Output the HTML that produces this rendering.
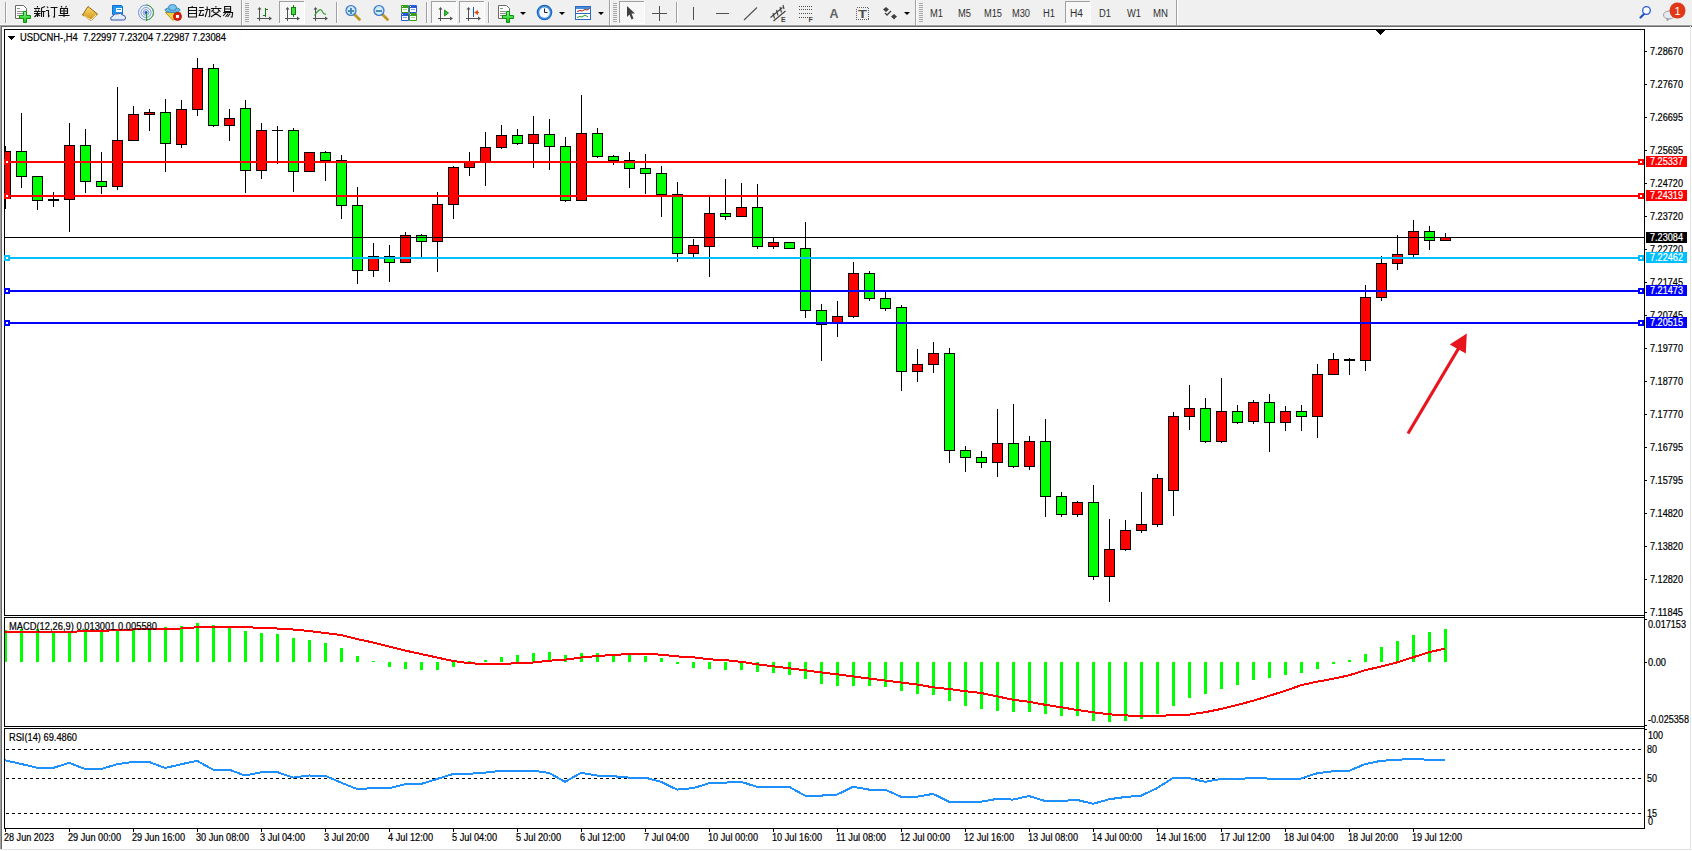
<!DOCTYPE html>
<html><head><meta charset="utf-8"><style>
html,body{margin:0;padding:0;background:#fff;overflow:hidden}
svg{display:block}
text{font-family:"Liberation Sans",sans-serif}
</style></head><body>
<svg width="1692" height="851" viewBox="0 0 1692 851" shape-rendering="crispEdges">
<rect x="0" y="0" width="1692" height="25" fill="#f0f0f0"/>
<rect x="0" y="23" width="1692" height="1" fill="#f0f0f0"/>
<rect x="0" y="24" width="1692" height="1" fill="#f6f6f6"/>
<rect x="0" y="25" width="1692" height="1" fill="#a0a0a0"/>
<rect x="0" y="26" width="1692" height="1" fill="#696969"/>
<rect x="0" y="27" width="1692" height="824" fill="#ffffff"/>
<rect x="0" y="26" width="1" height="824" fill="#a0a0a0"/>
<rect x="1" y="26" width="1" height="823" fill="#696969"/>
<rect x="1690" y="26" width="1" height="824" fill="#e3e3e3"/>
<rect x="0" y="849" width="1691" height="1" fill="#e3e3e3"/>
<rect x="4" y="29" width="1641" height="1" fill="#000"/>
<rect x="4" y="29" width="1" height="587" fill="#000"/>
<rect x="4" y="615" width="1641" height="1" fill="#000"/>
<rect x="1644" y="29" width="1" height="800" fill="#000"/>
<rect x="4" y="617" width="1641" height="1" fill="#000"/>
<rect x="4" y="617" width="1" height="110" fill="#000"/>
<rect x="4" y="726" width="1641" height="1" fill="#000"/>
<rect x="4" y="728" width="1641" height="1" fill="#000"/>
<rect x="4" y="728" width="1" height="101" fill="#000"/>
<rect x="4" y="828" width="1641" height="1" fill="#000"/>
<clipPath id="cm"><rect x="5" y="30" width="1639" height="585"/></clipPath>
<g clip-path="url(#cm)">
<rect x="5" y="146" width="1" height="63" fill="#000"/>
<rect x="0.5" y="151.5" width="10" height="47" fill="#ff0000" stroke="#000" stroke-width="1"/>
<rect x="21" y="113" width="1" height="75" fill="#000"/>
<rect x="16.5" y="151.5" width="10" height="25" fill="#00ff00" stroke="#000" stroke-width="1"/>
<rect x="37" y="176" width="1" height="34" fill="#000"/>
<rect x="32.5" y="176.5" width="10" height="24" fill="#00ff00" stroke="#000" stroke-width="1"/>
<rect x="53" y="192" width="1" height="15" fill="#000"/>
<rect x="48.5" y="199.5" width="10" height="1" fill="#000" stroke="#000" stroke-width="1"/>
<rect x="69" y="123" width="1" height="109" fill="#000"/>
<rect x="64.5" y="145.5" width="10" height="54" fill="#ff0000" stroke="#000" stroke-width="1"/>
<rect x="85" y="129" width="1" height="64" fill="#000"/>
<rect x="80.5" y="145.5" width="10" height="36" fill="#00ff00" stroke="#000" stroke-width="1"/>
<rect x="101" y="152" width="1" height="42" fill="#000"/>
<rect x="96.5" y="181.5" width="10" height="5" fill="#00ff00" stroke="#000" stroke-width="1"/>
<rect x="117" y="87" width="1" height="103" fill="#000"/>
<rect x="112.5" y="140.5" width="10" height="46" fill="#ff0000" stroke="#000" stroke-width="1"/>
<rect x="133" y="106" width="1" height="34" fill="#000"/>
<rect x="128.5" y="114.5" width="10" height="26" fill="#ff0000" stroke="#000" stroke-width="1"/>
<rect x="149" y="109" width="1" height="22" fill="#000"/>
<rect x="144.5" y="112.5" width="10" height="2" fill="#ff0000" stroke="#000" stroke-width="1"/>
<rect x="165" y="99" width="1" height="73" fill="#000"/>
<rect x="160.5" y="112.5" width="10" height="31" fill="#00ff00" stroke="#000" stroke-width="1"/>
<rect x="181" y="100" width="1" height="48" fill="#000"/>
<rect x="176.5" y="109.5" width="10" height="35" fill="#ff0000" stroke="#000" stroke-width="1"/>
<rect x="197" y="58" width="1" height="58" fill="#000"/>
<rect x="192.5" y="68.5" width="10" height="41" fill="#ff0000" stroke="#000" stroke-width="1"/>
<rect x="213" y="64" width="1" height="63" fill="#000"/>
<rect x="208.5" y="68.5" width="10" height="57" fill="#00ff00" stroke="#000" stroke-width="1"/>
<rect x="229" y="109" width="1" height="32" fill="#000"/>
<rect x="224.5" y="118.5" width="10" height="7" fill="#ff0000" stroke="#000" stroke-width="1"/>
<rect x="245" y="100" width="1" height="93" fill="#000"/>
<rect x="240.5" y="108.5" width="10" height="62" fill="#00ff00" stroke="#000" stroke-width="1"/>
<rect x="261" y="123" width="1" height="56" fill="#000"/>
<rect x="256.5" y="130.5" width="10" height="40" fill="#ff0000" stroke="#000" stroke-width="1"/>
<rect x="277" y="126" width="1" height="38" fill="#000"/>
<rect x="272" y="130" width="11" height="1" fill="#000"/>
<rect x="293" y="128" width="1" height="64" fill="#000"/>
<rect x="288.5" y="130.5" width="10" height="41" fill="#00ff00" stroke="#000" stroke-width="1"/>
<rect x="309" y="152" width="1" height="20" fill="#000"/>
<rect x="304.5" y="152.5" width="10" height="19" fill="#ff0000" stroke="#000" stroke-width="1"/>
<rect x="325" y="151" width="1" height="30" fill="#000"/>
<rect x="320.5" y="152.5" width="10" height="8" fill="#00ff00" stroke="#000" stroke-width="1"/>
<rect x="341" y="155" width="1" height="64" fill="#000"/>
<rect x="336.5" y="160.5" width="10" height="45" fill="#00ff00" stroke="#000" stroke-width="1"/>
<rect x="357" y="187" width="1" height="97" fill="#000"/>
<rect x="352.5" y="205.5" width="10" height="65" fill="#00ff00" stroke="#000" stroke-width="1"/>
<rect x="373" y="243" width="1" height="34" fill="#000"/>
<rect x="368.5" y="256.5" width="10" height="14" fill="#ff0000" stroke="#000" stroke-width="1"/>
<rect x="389" y="245" width="1" height="37" fill="#000"/>
<rect x="384.5" y="256.5" width="10" height="6" fill="#00ff00" stroke="#000" stroke-width="1"/>
<rect x="405" y="232" width="1" height="30" fill="#000"/>
<rect x="400.5" y="235.5" width="10" height="27" fill="#ff0000" stroke="#000" stroke-width="1"/>
<rect x="421" y="234" width="1" height="23" fill="#000"/>
<rect x="416.5" y="235.5" width="10" height="6" fill="#00ff00" stroke="#000" stroke-width="1"/>
<rect x="437" y="192" width="1" height="80" fill="#000"/>
<rect x="432.5" y="204.5" width="10" height="37" fill="#ff0000" stroke="#000" stroke-width="1"/>
<rect x="453" y="166" width="1" height="53" fill="#000"/>
<rect x="448.5" y="167.5" width="10" height="37" fill="#ff0000" stroke="#000" stroke-width="1"/>
<rect x="469" y="152" width="1" height="24" fill="#000"/>
<rect x="464.5" y="161.5" width="10" height="6" fill="#ff0000" stroke="#000" stroke-width="1"/>
<rect x="485" y="132" width="1" height="54" fill="#000"/>
<rect x="480.5" y="147.5" width="10" height="14" fill="#ff0000" stroke="#000" stroke-width="1"/>
<rect x="501" y="125" width="1" height="24" fill="#000"/>
<rect x="496.5" y="135.5" width="10" height="12" fill="#ff0000" stroke="#000" stroke-width="1"/>
<rect x="517" y="129" width="1" height="16" fill="#000"/>
<rect x="512.5" y="135.5" width="10" height="8" fill="#00ff00" stroke="#000" stroke-width="1"/>
<rect x="533" y="116" width="1" height="52" fill="#000"/>
<rect x="528.5" y="134.5" width="10" height="9" fill="#ff0000" stroke="#000" stroke-width="1"/>
<rect x="549" y="119" width="1" height="51" fill="#000"/>
<rect x="544.5" y="134.5" width="10" height="12" fill="#00ff00" stroke="#000" stroke-width="1"/>
<rect x="565" y="137" width="1" height="65" fill="#000"/>
<rect x="560.5" y="146.5" width="10" height="54" fill="#00ff00" stroke="#000" stroke-width="1"/>
<rect x="581" y="95" width="1" height="105" fill="#000"/>
<rect x="576.5" y="133.5" width="10" height="67" fill="#ff0000" stroke="#000" stroke-width="1"/>
<rect x="597" y="128" width="1" height="30" fill="#000"/>
<rect x="592.5" y="133.5" width="10" height="23" fill="#00ff00" stroke="#000" stroke-width="1"/>
<rect x="613" y="155" width="1" height="10" fill="#000"/>
<rect x="608.5" y="156.5" width="10" height="4" fill="#00ff00" stroke="#000" stroke-width="1"/>
<rect x="629" y="152" width="1" height="36" fill="#000"/>
<rect x="624.5" y="160.5" width="10" height="8" fill="#00ff00" stroke="#000" stroke-width="1"/>
<rect x="645" y="154" width="1" height="40" fill="#000"/>
<rect x="640.5" y="168.5" width="10" height="5" fill="#00ff00" stroke="#000" stroke-width="1"/>
<rect x="661" y="166" width="1" height="51" fill="#000"/>
<rect x="656.5" y="173.5" width="10" height="21" fill="#00ff00" stroke="#000" stroke-width="1"/>
<rect x="677" y="182" width="1" height="80" fill="#000"/>
<rect x="672.5" y="194.5" width="10" height="59" fill="#00ff00" stroke="#000" stroke-width="1"/>
<rect x="693" y="239" width="1" height="18" fill="#000"/>
<rect x="688.5" y="245.5" width="10" height="8" fill="#ff0000" stroke="#000" stroke-width="1"/>
<rect x="709" y="196" width="1" height="81" fill="#000"/>
<rect x="704.5" y="213.5" width="10" height="33" fill="#ff0000" stroke="#000" stroke-width="1"/>
<rect x="725" y="179" width="1" height="41" fill="#000"/>
<rect x="720.5" y="213.5" width="10" height="3" fill="#00ff00" stroke="#000" stroke-width="1"/>
<rect x="741" y="183" width="1" height="33" fill="#000"/>
<rect x="736.5" y="207.5" width="10" height="9" fill="#ff0000" stroke="#000" stroke-width="1"/>
<rect x="757" y="184" width="1" height="65" fill="#000"/>
<rect x="752.5" y="207.5" width="10" height="39" fill="#00ff00" stroke="#000" stroke-width="1"/>
<rect x="773" y="237" width="1" height="12" fill="#000"/>
<rect x="768.5" y="242.5" width="10" height="4" fill="#ff0000" stroke="#000" stroke-width="1"/>
<rect x="789" y="242" width="1" height="6" fill="#000"/>
<rect x="784.5" y="242.5" width="10" height="6" fill="#00ff00" stroke="#000" stroke-width="1"/>
<rect x="805" y="222" width="1" height="96" fill="#000"/>
<rect x="800.5" y="248.5" width="10" height="62" fill="#00ff00" stroke="#000" stroke-width="1"/>
<rect x="821" y="304" width="1" height="57" fill="#000"/>
<rect x="816.5" y="310.5" width="10" height="14" fill="#00ff00" stroke="#000" stroke-width="1"/>
<rect x="837" y="301" width="1" height="36" fill="#000"/>
<rect x="832.5" y="316.5" width="10" height="6" fill="#ff0000" stroke="#000" stroke-width="1"/>
<rect x="853" y="262" width="1" height="56" fill="#000"/>
<rect x="848.5" y="273.5" width="10" height="43" fill="#ff0000" stroke="#000" stroke-width="1"/>
<rect x="869" y="271" width="1" height="30" fill="#000"/>
<rect x="864.5" y="273.5" width="10" height="25" fill="#00ff00" stroke="#000" stroke-width="1"/>
<rect x="885" y="292" width="1" height="19" fill="#000"/>
<rect x="880.5" y="298.5" width="10" height="10" fill="#00ff00" stroke="#000" stroke-width="1"/>
<rect x="901" y="305" width="1" height="86" fill="#000"/>
<rect x="896.5" y="307.5" width="10" height="64" fill="#00ff00" stroke="#000" stroke-width="1"/>
<rect x="917" y="349" width="1" height="33" fill="#000"/>
<rect x="912.5" y="364.5" width="10" height="7" fill="#ff0000" stroke="#000" stroke-width="1"/>
<rect x="933" y="342" width="1" height="31" fill="#000"/>
<rect x="928.5" y="353.5" width="10" height="11" fill="#ff0000" stroke="#000" stroke-width="1"/>
<rect x="949" y="348" width="1" height="115" fill="#000"/>
<rect x="944.5" y="353.5" width="10" height="97" fill="#00ff00" stroke="#000" stroke-width="1"/>
<rect x="965" y="446" width="1" height="26" fill="#000"/>
<rect x="960.5" y="450.5" width="10" height="7" fill="#00ff00" stroke="#000" stroke-width="1"/>
<rect x="981" y="451" width="1" height="17" fill="#000"/>
<rect x="976.5" y="457.5" width="10" height="5" fill="#00ff00" stroke="#000" stroke-width="1"/>
<rect x="997" y="409" width="1" height="68" fill="#000"/>
<rect x="992.5" y="443.5" width="10" height="19" fill="#ff0000" stroke="#000" stroke-width="1"/>
<rect x="1013" y="404" width="1" height="64" fill="#000"/>
<rect x="1008.5" y="443.5" width="10" height="23" fill="#00ff00" stroke="#000" stroke-width="1"/>
<rect x="1029" y="436" width="1" height="34" fill="#000"/>
<rect x="1024.5" y="441.5" width="10" height="25" fill="#ff0000" stroke="#000" stroke-width="1"/>
<rect x="1045" y="419" width="1" height="98" fill="#000"/>
<rect x="1040.5" y="441.5" width="10" height="55" fill="#00ff00" stroke="#000" stroke-width="1"/>
<rect x="1061" y="492" width="1" height="25" fill="#000"/>
<rect x="1056.5" y="496.5" width="10" height="18" fill="#00ff00" stroke="#000" stroke-width="1"/>
<rect x="1077" y="501" width="1" height="16" fill="#000"/>
<rect x="1072.5" y="502.5" width="10" height="12" fill="#ff0000" stroke="#000" stroke-width="1"/>
<rect x="1093" y="485" width="1" height="95" fill="#000"/>
<rect x="1088.5" y="502.5" width="10" height="74" fill="#00ff00" stroke="#000" stroke-width="1"/>
<rect x="1109" y="519" width="1" height="83" fill="#000"/>
<rect x="1104.5" y="549.5" width="10" height="27" fill="#ff0000" stroke="#000" stroke-width="1"/>
<rect x="1125" y="520" width="1" height="31" fill="#000"/>
<rect x="1120.5" y="530.5" width="10" height="19" fill="#ff0000" stroke="#000" stroke-width="1"/>
<rect x="1141" y="492" width="1" height="41" fill="#000"/>
<rect x="1136.5" y="524.5" width="10" height="6" fill="#ff0000" stroke="#000" stroke-width="1"/>
<rect x="1157" y="474" width="1" height="53" fill="#000"/>
<rect x="1152.5" y="478.5" width="10" height="46" fill="#ff0000" stroke="#000" stroke-width="1"/>
<rect x="1173" y="412" width="1" height="104" fill="#000"/>
<rect x="1168.5" y="416.5" width="10" height="74" fill="#ff0000" stroke="#000" stroke-width="1"/>
<rect x="1189" y="385" width="1" height="45" fill="#000"/>
<rect x="1184.5" y="408.5" width="10" height="8" fill="#ff0000" stroke="#000" stroke-width="1"/>
<rect x="1205" y="398" width="1" height="45" fill="#000"/>
<rect x="1200.5" y="408.5" width="10" height="33" fill="#00ff00" stroke="#000" stroke-width="1"/>
<rect x="1221" y="378" width="1" height="65" fill="#000"/>
<rect x="1216.5" y="411.5" width="10" height="30" fill="#ff0000" stroke="#000" stroke-width="1"/>
<rect x="1237" y="405" width="1" height="19" fill="#000"/>
<rect x="1232.5" y="411.5" width="10" height="11" fill="#00ff00" stroke="#000" stroke-width="1"/>
<rect x="1253" y="400" width="1" height="24" fill="#000"/>
<rect x="1248.5" y="402.5" width="10" height="19" fill="#ff0000" stroke="#000" stroke-width="1"/>
<rect x="1269" y="394" width="1" height="58" fill="#000"/>
<rect x="1264.5" y="402.5" width="10" height="20" fill="#00ff00" stroke="#000" stroke-width="1"/>
<rect x="1285" y="406" width="1" height="25" fill="#000"/>
<rect x="1280.5" y="411.5" width="10" height="11" fill="#ff0000" stroke="#000" stroke-width="1"/>
<rect x="1301" y="405" width="1" height="26" fill="#000"/>
<rect x="1296.5" y="411.5" width="10" height="5" fill="#00ff00" stroke="#000" stroke-width="1"/>
<rect x="1317" y="364" width="1" height="74" fill="#000"/>
<rect x="1312.5" y="374.5" width="10" height="42" fill="#ff0000" stroke="#000" stroke-width="1"/>
<rect x="1333" y="353" width="1" height="22" fill="#000"/>
<rect x="1328.5" y="359.5" width="10" height="15" fill="#ff0000" stroke="#000" stroke-width="1"/>
<rect x="1349" y="358" width="1" height="17" fill="#000"/>
<rect x="1344.5" y="359.5" width="10" height="1" fill="#000" stroke="#000" stroke-width="1"/>
<rect x="1365" y="285" width="1" height="86" fill="#000"/>
<rect x="1360.5" y="297.5" width="10" height="63" fill="#ff0000" stroke="#000" stroke-width="1"/>
<rect x="1381" y="256" width="1" height="45" fill="#000"/>
<rect x="1376.5" y="263.5" width="10" height="34" fill="#ff0000" stroke="#000" stroke-width="1"/>
<rect x="1397" y="235" width="1" height="35" fill="#000"/>
<rect x="1392.5" y="254.5" width="10" height="9" fill="#ff0000" stroke="#000" stroke-width="1"/>
<rect x="1413" y="220" width="1" height="37" fill="#000"/>
<rect x="1408.5" y="231.5" width="10" height="23" fill="#ff0000" stroke="#000" stroke-width="1"/>
<rect x="1429" y="226" width="1" height="24" fill="#000"/>
<rect x="1424.5" y="231.5" width="10" height="9" fill="#00ff00" stroke="#000" stroke-width="1"/>
<rect x="1445" y="233" width="1" height="8" fill="#000"/>
<rect x="1440.5" y="237.5" width="10" height="3" fill="#ff0000" stroke="#000" stroke-width="1"/>
<rect x="5" y="161" width="1639" height="2" fill="#ff0000"/>
<rect x="5" y="195" width="1639" height="2" fill="#ff0000"/>
<rect x="5" y="237" width="1639" height="1" fill="#000000"/>
<rect x="5" y="257" width="1639" height="2" fill="#00bfff"/>
<rect x="5" y="290" width="1639" height="2" fill="#0000ff"/>
<rect x="5" y="322" width="1639" height="2" fill="#0000ff"/>
<g shape-rendering="geometricPrecision"><line x1="1408" y1="433.5" x2="1458.5" y2="348.5" stroke="#e8141e" stroke-width="3.2"/>
<polygon points="1466.8,333.5 1449.8,344.6 1465.8,353.5" fill="#e8141e"/></g>
</g>
<rect x="4" y="159" width="6" height="6" fill="#ff0000"/>
<rect x="6" y="161" width="2" height="2" fill="#ffffff"/>
<rect x="1638" y="159" width="6" height="6" fill="#ff0000"/>
<rect x="1640" y="161" width="2" height="2" fill="#ffffff"/>
<rect x="4" y="193" width="6" height="6" fill="#ff0000"/>
<rect x="6" y="195" width="2" height="2" fill="#ffffff"/>
<rect x="1638" y="193" width="6" height="6" fill="#ff0000"/>
<rect x="1640" y="195" width="2" height="2" fill="#ffffff"/>
<rect x="4" y="255" width="6" height="6" fill="#00bfff"/>
<rect x="6" y="257" width="2" height="2" fill="#ffffff"/>
<rect x="1638" y="255" width="6" height="6" fill="#00bfff"/>
<rect x="1640" y="257" width="2" height="2" fill="#ffffff"/>
<rect x="4" y="288" width="6" height="6" fill="#0000ff"/>
<rect x="6" y="290" width="2" height="2" fill="#ffffff"/>
<rect x="1638" y="288" width="6" height="6" fill="#0000ff"/>
<rect x="1640" y="290" width="2" height="2" fill="#ffffff"/>
<rect x="4" y="320" width="6" height="6" fill="#0000ff"/>
<rect x="6" y="322" width="2" height="2" fill="#ffffff"/>
<rect x="1638" y="320" width="6" height="6" fill="#0000ff"/>
<rect x="1640" y="322" width="2" height="2" fill="#ffffff"/>
<polygon points="1374.5,29 1386.5,29 1380.5,35" fill="#000"/>
<polygon points="8,36 15,36 11.5,40" fill="#000"/>
<text x="20" y="41" font-size="10" fill="#000" stroke="#000" stroke-width="0.2" textLength="206" lengthAdjust="spacingAndGlyphs" >USDCNH-,H4&#160;&#160;7.22997 7.23204 7.22987 7.23084</text>
<rect x="1645" y="51" width="2" height="1" fill="#000"/>
<text x="1650" y="55" font-size="10" fill="#000" stroke="#000" stroke-width="0.2" textLength="33" lengthAdjust="spacingAndGlyphs" >7.28670</text>
<rect x="1645" y="84" width="2" height="1" fill="#000"/>
<text x="1650" y="88" font-size="10" fill="#000" stroke="#000" stroke-width="0.2" textLength="33" lengthAdjust="spacingAndGlyphs" >7.27670</text>
<rect x="1645" y="117" width="2" height="1" fill="#000"/>
<text x="1650" y="121" font-size="10" fill="#000" stroke="#000" stroke-width="0.2" textLength="33" lengthAdjust="spacingAndGlyphs" >7.26695</text>
<rect x="1645" y="150" width="2" height="1" fill="#000"/>
<text x="1650" y="154" font-size="10" fill="#000" stroke="#000" stroke-width="0.2" textLength="33" lengthAdjust="spacingAndGlyphs" >7.25695</text>
<rect x="1645" y="183" width="2" height="1" fill="#000"/>
<text x="1650" y="187" font-size="10" fill="#000" stroke="#000" stroke-width="0.2" textLength="33" lengthAdjust="spacingAndGlyphs" >7.24720</text>
<rect x="1645" y="216" width="2" height="1" fill="#000"/>
<text x="1650" y="220" font-size="10" fill="#000" stroke="#000" stroke-width="0.2" textLength="33" lengthAdjust="spacingAndGlyphs" >7.23720</text>
<rect x="1645" y="249" width="2" height="1" fill="#000"/>
<text x="1650" y="253" font-size="10" fill="#000" stroke="#000" stroke-width="0.2" textLength="33" lengthAdjust="spacingAndGlyphs" >7.22720</text>
<rect x="1645" y="282" width="2" height="1" fill="#000"/>
<text x="1650" y="286" font-size="10" fill="#000" stroke="#000" stroke-width="0.2" textLength="33" lengthAdjust="spacingAndGlyphs" >7.21745</text>
<rect x="1645" y="315" width="2" height="1" fill="#000"/>
<text x="1650" y="319" font-size="10" fill="#000" stroke="#000" stroke-width="0.2" textLength="33" lengthAdjust="spacingAndGlyphs" >7.20745</text>
<rect x="1645" y="348" width="2" height="1" fill="#000"/>
<text x="1650" y="352" font-size="10" fill="#000" stroke="#000" stroke-width="0.2" textLength="33" lengthAdjust="spacingAndGlyphs" >7.19770</text>
<rect x="1645" y="381" width="2" height="1" fill="#000"/>
<text x="1650" y="385" font-size="10" fill="#000" stroke="#000" stroke-width="0.2" textLength="33" lengthAdjust="spacingAndGlyphs" >7.18770</text>
<rect x="1645" y="414" width="2" height="1" fill="#000"/>
<text x="1650" y="418" font-size="10" fill="#000" stroke="#000" stroke-width="0.2" textLength="33" lengthAdjust="spacingAndGlyphs" >7.17770</text>
<rect x="1645" y="447" width="2" height="1" fill="#000"/>
<text x="1650" y="451" font-size="10" fill="#000" stroke="#000" stroke-width="0.2" textLength="33" lengthAdjust="spacingAndGlyphs" >7.16795</text>
<rect x="1645" y="480" width="2" height="1" fill="#000"/>
<text x="1650" y="484" font-size="10" fill="#000" stroke="#000" stroke-width="0.2" textLength="33" lengthAdjust="spacingAndGlyphs" >7.15795</text>
<rect x="1645" y="513" width="2" height="1" fill="#000"/>
<text x="1650" y="517" font-size="10" fill="#000" stroke="#000" stroke-width="0.2" textLength="33" lengthAdjust="spacingAndGlyphs" >7.14820</text>
<rect x="1645" y="546" width="2" height="1" fill="#000"/>
<text x="1650" y="550" font-size="10" fill="#000" stroke="#000" stroke-width="0.2" textLength="33" lengthAdjust="spacingAndGlyphs" >7.13820</text>
<rect x="1645" y="579" width="2" height="1" fill="#000"/>
<text x="1650" y="583" font-size="10" fill="#000" stroke="#000" stroke-width="0.2" textLength="33" lengthAdjust="spacingAndGlyphs" >7.12820</text>
<rect x="1645" y="612" width="2" height="1" fill="#000"/>
<text x="1650" y="616" font-size="10" fill="#000" stroke="#000" stroke-width="0.2" textLength="33" lengthAdjust="spacingAndGlyphs" >7.11845</text>
<rect x="1646" y="156" width="41" height="11" fill="#ff0000"/>
<text x="1650" y="165" font-size="10" fill="#fff" stroke="#fff" stroke-width="0.2" textLength="33" lengthAdjust="spacingAndGlyphs" >7.25337</text>
<rect x="1646" y="190" width="41" height="11" fill="#ff0000"/>
<text x="1650" y="199" font-size="10" fill="#fff" stroke="#fff" stroke-width="0.2" textLength="33" lengthAdjust="spacingAndGlyphs" >7.24319</text>
<rect x="1646" y="232" width="41" height="11" fill="#000000"/>
<text x="1650" y="241" font-size="10" fill="#fff" stroke="#fff" stroke-width="0.2" textLength="33" lengthAdjust="spacingAndGlyphs" >7.23084</text>
<rect x="1646" y="252" width="41" height="11" fill="#00bfff"/>
<text x="1650" y="261" font-size="10" fill="#fff" stroke="#fff" stroke-width="0.2" textLength="33" lengthAdjust="spacingAndGlyphs" >7.22462</text>
<rect x="1646" y="285" width="41" height="11" fill="#0000ff"/>
<text x="1650" y="294" font-size="10" fill="#fff" stroke="#fff" stroke-width="0.2" textLength="33" lengthAdjust="spacingAndGlyphs" >7.21473</text>
<rect x="1646" y="317" width="41" height="11" fill="#0000ff"/>
<text x="1650" y="326" font-size="10" fill="#fff" stroke="#fff" stroke-width="0.2" textLength="33" lengthAdjust="spacingAndGlyphs" >7.20515</text>
<clipPath id="cmacd"><rect x="5" y="618" width="1639" height="108"/></clipPath>
<g clip-path="url(#cmacd)">
<rect x="4" y="630" width="3" height="32" fill="#00ff00"/>
<rect x="20" y="629" width="3" height="33" fill="#00ff00"/>
<rect x="36" y="629" width="3" height="33" fill="#00ff00"/>
<rect x="52" y="631" width="3" height="31" fill="#00ff00"/>
<rect x="68" y="631" width="3" height="31" fill="#00ff00"/>
<rect x="84" y="629" width="3" height="33" fill="#00ff00"/>
<rect x="100" y="631" width="3" height="31" fill="#00ff00"/>
<rect x="116" y="629" width="3" height="33" fill="#00ff00"/>
<rect x="132" y="628" width="3" height="34" fill="#00ff00"/>
<rect x="148" y="628" width="3" height="34" fill="#00ff00"/>
<rect x="164" y="627" width="3" height="35" fill="#00ff00"/>
<rect x="180" y="626" width="3" height="36" fill="#00ff00"/>
<rect x="196" y="623" width="3" height="39" fill="#00ff00"/>
<rect x="212" y="625" width="3" height="37" fill="#00ff00"/>
<rect x="228" y="628" width="3" height="34" fill="#00ff00"/>
<rect x="244" y="631" width="3" height="31" fill="#00ff00"/>
<rect x="260" y="633" width="3" height="29" fill="#00ff00"/>
<rect x="276" y="634" width="3" height="28" fill="#00ff00"/>
<rect x="292" y="638" width="3" height="24" fill="#00ff00"/>
<rect x="308" y="640" width="3" height="22" fill="#00ff00"/>
<rect x="324" y="643" width="3" height="19" fill="#00ff00"/>
<rect x="340" y="648" width="3" height="14" fill="#00ff00"/>
<rect x="356" y="656" width="3" height="6" fill="#00ff00"/>
<rect x="372" y="661" width="3" height="1" fill="#00ff00"/>
<rect x="388" y="662" width="3" height="5" fill="#00ff00"/>
<rect x="404" y="662" width="3" height="7" fill="#00ff00"/>
<rect x="420" y="662" width="3" height="8" fill="#00ff00"/>
<rect x="436" y="662" width="3" height="8" fill="#00ff00"/>
<rect x="452" y="662" width="3" height="5" fill="#00ff00"/>
<rect x="468" y="661" width="3" height="1" fill="#00ff00"/>
<rect x="484" y="660" width="3" height="2" fill="#00ff00"/>
<rect x="500" y="657" width="3" height="5" fill="#00ff00"/>
<rect x="516" y="655" width="3" height="7" fill="#00ff00"/>
<rect x="532" y="653" width="3" height="9" fill="#00ff00"/>
<rect x="548" y="652" width="3" height="10" fill="#00ff00"/>
<rect x="564" y="655" width="3" height="7" fill="#00ff00"/>
<rect x="580" y="653" width="3" height="9" fill="#00ff00"/>
<rect x="596" y="653" width="3" height="9" fill="#00ff00"/>
<rect x="612" y="654" width="3" height="8" fill="#00ff00"/>
<rect x="628" y="655" width="3" height="7" fill="#00ff00"/>
<rect x="644" y="656" width="3" height="6" fill="#00ff00"/>
<rect x="660" y="658" width="3" height="4" fill="#00ff00"/>
<rect x="676" y="662" width="3" height="2" fill="#00ff00"/>
<rect x="692" y="662" width="3" height="6" fill="#00ff00"/>
<rect x="708" y="662" width="3" height="7" fill="#00ff00"/>
<rect x="724" y="662" width="3" height="8" fill="#00ff00"/>
<rect x="740" y="662" width="3" height="8" fill="#00ff00"/>
<rect x="756" y="662" width="3" height="10" fill="#00ff00"/>
<rect x="772" y="662" width="3" height="11" fill="#00ff00"/>
<rect x="788" y="662" width="3" height="13" fill="#00ff00"/>
<rect x="804" y="662" width="3" height="17" fill="#00ff00"/>
<rect x="820" y="662" width="3" height="22" fill="#00ff00"/>
<rect x="836" y="662" width="3" height="24" fill="#00ff00"/>
<rect x="852" y="662" width="3" height="24" fill="#00ff00"/>
<rect x="868" y="662" width="3" height="24" fill="#00ff00"/>
<rect x="884" y="662" width="3" height="25" fill="#00ff00"/>
<rect x="900" y="662" width="3" height="29" fill="#00ff00"/>
<rect x="916" y="662" width="3" height="32" fill="#00ff00"/>
<rect x="932" y="662" width="3" height="33" fill="#00ff00"/>
<rect x="948" y="662" width="3" height="39" fill="#00ff00"/>
<rect x="964" y="662" width="3" height="44" fill="#00ff00"/>
<rect x="980" y="662" width="3" height="47" fill="#00ff00"/>
<rect x="996" y="662" width="3" height="49" fill="#00ff00"/>
<rect x="1012" y="662" width="3" height="50" fill="#00ff00"/>
<rect x="1028" y="662" width="3" height="50" fill="#00ff00"/>
<rect x="1044" y="662" width="3" height="52" fill="#00ff00"/>
<rect x="1060" y="662" width="3" height="54" fill="#00ff00"/>
<rect x="1076" y="662" width="3" height="54" fill="#00ff00"/>
<rect x="1092" y="662" width="3" height="59" fill="#00ff00"/>
<rect x="1108" y="662" width="3" height="60" fill="#00ff00"/>
<rect x="1124" y="662" width="3" height="59" fill="#00ff00"/>
<rect x="1140" y="662" width="3" height="57" fill="#00ff00"/>
<rect x="1156" y="662" width="3" height="52" fill="#00ff00"/>
<rect x="1172" y="662" width="3" height="44" fill="#00ff00"/>
<rect x="1188" y="662" width="3" height="36" fill="#00ff00"/>
<rect x="1204" y="662" width="3" height="32" fill="#00ff00"/>
<rect x="1220" y="662" width="3" height="27" fill="#00ff00"/>
<rect x="1236" y="662" width="3" height="23" fill="#00ff00"/>
<rect x="1252" y="662" width="3" height="18" fill="#00ff00"/>
<rect x="1268" y="662" width="3" height="16" fill="#00ff00"/>
<rect x="1284" y="662" width="3" height="13" fill="#00ff00"/>
<rect x="1300" y="662" width="3" height="11" fill="#00ff00"/>
<rect x="1316" y="662" width="3" height="7" fill="#00ff00"/>
<rect x="1332" y="662" width="3" height="2" fill="#00ff00"/>
<rect x="1348" y="660" width="3" height="2" fill="#00ff00"/>
<rect x="1364" y="654" width="3" height="8" fill="#00ff00"/>
<rect x="1380" y="647" width="3" height="15" fill="#00ff00"/>
<rect x="1396" y="641" width="3" height="21" fill="#00ff00"/>
<rect x="1412" y="635" width="3" height="27" fill="#00ff00"/>
<rect x="1428" y="632" width="3" height="30" fill="#00ff00"/>
<rect x="1444" y="629" width="3" height="33" fill="#00ff00"/>
<polyline points="5,632 21,632 37,632 53,632 69,632 85,631 101,631 117,630 133,629.5 149,629 165,628.8 181,628.5 197,627.3 213,627 229,627 245,627 261,628 277,628.5 293,629.5 309,631 325,633 341,635 357,639 373,642.5 389,646.5 405,650.5 421,654 437,657.5 453,661 469,663.2 485,664 501,664 517,663.2 533,662.5 549,660.7 565,659.7 581,657.5 597,656 613,655 629,654 645,653.6 661,654.7 677,656.4 693,657.3 709,659.3 725,660.1 741,661.8 757,664.2 773,666.3 789,668.2 805,670.3 821,672.4 837,674.3 853,676.4 869,678.5 885,680.5 901,682.5 917,684.5 933,687.3 949,689 965,691.2 981,693 997,696.3 1013,699.8 1029,701.8 1045,704.8 1061,707.2 1077,710 1093,712.2 1109,714.3 1125,715.4 1141,716 1157,716 1173,715.1 1189,714.6 1205,712.2 1221,709 1237,705 1253,700.8 1269,695.9 1285,690.9 1301,685.2 1317,681.7 1333,678.8 1349,675.3 1365,670.3 1381,666.5 1397,662.4 1413,657.3 1429,652.3 1445,648.5" fill="none" stroke="#ff0000" stroke-width="2"/>
</g>
<text x="9" y="630" font-size="10" fill="#000" stroke="#000" stroke-width="0.2" textLength="148" lengthAdjust="spacingAndGlyphs" >MACD(12,26,9) 0.013001 0.005580</text>
<rect x="1645" y="619" width="2" height="1" fill="#000"/>
<rect x="1645" y="662" width="2" height="1" fill="#000"/>
<rect x="1645" y="725" width="2" height="1" fill="#000"/>
<text x="1648" y="628" font-size="10" fill="#000" stroke="#000" stroke-width="0.2" textLength="38" lengthAdjust="spacingAndGlyphs" >0.017153</text>
<text x="1648" y="666" font-size="10" fill="#000" stroke="#000" stroke-width="0.2" textLength="18" lengthAdjust="spacingAndGlyphs" >0.00</text>
<text x="1648" y="723" font-size="10" fill="#000" stroke="#000" stroke-width="0.2" textLength="41" lengthAdjust="spacingAndGlyphs" >-0.025358</text>
<clipPath id="crsi"><rect x="5" y="729" width="1639" height="99"/></clipPath>
<g clip-path="url(#crsi)">
<line x1="6" y1="749.5" x2="1644" y2="749.5" stroke="#000" stroke-width="1" stroke-dasharray="3 3"/>
<line x1="6" y1="778.5" x2="1644" y2="778.5" stroke="#000" stroke-width="1" stroke-dasharray="3 3"/>
<line x1="6" y1="813.5" x2="1644" y2="813.5" stroke="#000" stroke-width="1" stroke-dasharray="3 3"/>
<polyline points="5,760.3 21,763.9 37,767.7 53,768 69,762.8 85,769 101,769 117,764.3 133,761.9 149,761.9 165,768 181,764.3 197,760.8 213,769.6 229,769.6 245,775.5 261,772.3 277,772 293,777.6 309,775.5 325,775.7 341,782.6 357,789 373,788.2 389,788.2 405,784.3 421,784 437,779 453,774 469,773.8 485,772.6 501,770.9 517,771.5 533,770.6 549,772.9 565,781.8 581,772.9 597,775.5 613,776.2 629,777.6 645,777.6 661,781.8 677,789.6 693,788.2 709,783.3 725,782.6 741,781.8 757,786.8 773,786.8 789,786.8 805,795.6 821,795.6 837,794.6 853,786.8 869,789.6 885,789.6 901,796.7 917,796.7 933,793.9 949,801.7 965,801.7 981,801.7 997,798.9 1013,799.6 1029,796 1045,801 1061,801 1077,799.9 1093,803.8 1109,799.3 1125,797 1141,795.7 1157,788.2 1173,778 1189,778 1205,781.8 1221,779 1237,779 1253,778 1269,778.6 1285,778.6 1301,778.6 1317,773.3 1333,771.2 1349,770.9 1365,764.1 1381,760.8 1397,759.8 1413,758.9 1429,759.8 1445,759.8" fill="none" stroke="#1e90ff" stroke-width="2"/>
</g>
<text x="9" y="741" font-size="10" fill="#000" stroke="#000" stroke-width="0.2" textLength="68" lengthAdjust="spacingAndGlyphs" >RSI(14) 69.4860</text>
<rect x="1645" y="729" width="2" height="1" fill="#000"/>
<text x="1648" y="739" font-size="10" fill="#000" stroke="#000" stroke-width="0.2" textLength="15" lengthAdjust="spacingAndGlyphs" >100</text>
<text x="1647" y="753" font-size="10" fill="#000" stroke="#000" stroke-width="0.2" textLength="10" lengthAdjust="spacingAndGlyphs" >80</text>
<text x="1647" y="782" font-size="10" fill="#000" stroke="#000" stroke-width="0.2" textLength="10" lengthAdjust="spacingAndGlyphs" >50</text>
<text x="1647" y="817" font-size="10" fill="#000" stroke="#000" stroke-width="0.2" textLength="10" lengthAdjust="spacingAndGlyphs" >15</text>
<text x="1648" y="825" font-size="10" fill="#000" stroke="#000" stroke-width="0.2" textLength="5" lengthAdjust="spacingAndGlyphs" >0</text>
<rect x="5" y="829" width="1" height="3" fill="#000"/>
<text x="4" y="841" font-size="10" fill="#000" stroke="#000" stroke-width="0.2" textLength="50" lengthAdjust="spacingAndGlyphs" >28 Jun 2023</text>
<rect x="69" y="829" width="1" height="3" fill="#000"/>
<text x="68" y="841" font-size="10" fill="#000" stroke="#000" stroke-width="0.2" textLength="53" lengthAdjust="spacingAndGlyphs" >29 Jun 00:00</text>
<rect x="133" y="829" width="1" height="3" fill="#000"/>
<text x="132" y="841" font-size="10" fill="#000" stroke="#000" stroke-width="0.2" textLength="53" lengthAdjust="spacingAndGlyphs" >29 Jun 16:00</text>
<rect x="197" y="829" width="1" height="3" fill="#000"/>
<text x="196" y="841" font-size="10" fill="#000" stroke="#000" stroke-width="0.2" textLength="53" lengthAdjust="spacingAndGlyphs" >30 Jun 08:00</text>
<rect x="261" y="829" width="1" height="3" fill="#000"/>
<text x="260" y="841" font-size="10" fill="#000" stroke="#000" stroke-width="0.2" textLength="45" lengthAdjust="spacingAndGlyphs" >3 Jul 04:00</text>
<rect x="325" y="829" width="1" height="3" fill="#000"/>
<text x="324" y="841" font-size="10" fill="#000" stroke="#000" stroke-width="0.2" textLength="45" lengthAdjust="spacingAndGlyphs" >3 Jul 20:00</text>
<rect x="389" y="829" width="1" height="3" fill="#000"/>
<text x="388" y="841" font-size="10" fill="#000" stroke="#000" stroke-width="0.2" textLength="45" lengthAdjust="spacingAndGlyphs" >4 Jul 12:00</text>
<rect x="453" y="829" width="1" height="3" fill="#000"/>
<text x="452" y="841" font-size="10" fill="#000" stroke="#000" stroke-width="0.2" textLength="45" lengthAdjust="spacingAndGlyphs" >5 Jul 04:00</text>
<rect x="517" y="829" width="1" height="3" fill="#000"/>
<text x="516" y="841" font-size="10" fill="#000" stroke="#000" stroke-width="0.2" textLength="45" lengthAdjust="spacingAndGlyphs" >5 Jul 20:00</text>
<rect x="581" y="829" width="1" height="3" fill="#000"/>
<text x="580" y="841" font-size="10" fill="#000" stroke="#000" stroke-width="0.2" textLength="45" lengthAdjust="spacingAndGlyphs" >6 Jul 12:00</text>
<rect x="645" y="829" width="1" height="3" fill="#000"/>
<text x="644" y="841" font-size="10" fill="#000" stroke="#000" stroke-width="0.2" textLength="45" lengthAdjust="spacingAndGlyphs" >7 Jul 04:00</text>
<rect x="709" y="829" width="1" height="3" fill="#000"/>
<text x="708" y="841" font-size="10" fill="#000" stroke="#000" stroke-width="0.2" textLength="50" lengthAdjust="spacingAndGlyphs" >10 Jul 00:00</text>
<rect x="773" y="829" width="1" height="3" fill="#000"/>
<text x="772" y="841" font-size="10" fill="#000" stroke="#000" stroke-width="0.2" textLength="50" lengthAdjust="spacingAndGlyphs" >10 Jul 16:00</text>
<rect x="837" y="829" width="1" height="3" fill="#000"/>
<text x="836" y="841" font-size="10" fill="#000" stroke="#000" stroke-width="0.2" textLength="50" lengthAdjust="spacingAndGlyphs" >11 Jul 08:00</text>
<rect x="901" y="829" width="1" height="3" fill="#000"/>
<text x="900" y="841" font-size="10" fill="#000" stroke="#000" stroke-width="0.2" textLength="50" lengthAdjust="spacingAndGlyphs" >12 Jul 00:00</text>
<rect x="965" y="829" width="1" height="3" fill="#000"/>
<text x="964" y="841" font-size="10" fill="#000" stroke="#000" stroke-width="0.2" textLength="50" lengthAdjust="spacingAndGlyphs" >12 Jul 16:00</text>
<rect x="1029" y="829" width="1" height="3" fill="#000"/>
<text x="1028" y="841" font-size="10" fill="#000" stroke="#000" stroke-width="0.2" textLength="50" lengthAdjust="spacingAndGlyphs" >13 Jul 08:00</text>
<rect x="1093" y="829" width="1" height="3" fill="#000"/>
<text x="1092" y="841" font-size="10" fill="#000" stroke="#000" stroke-width="0.2" textLength="50" lengthAdjust="spacingAndGlyphs" >14 Jul 00:00</text>
<rect x="1157" y="829" width="1" height="3" fill="#000"/>
<text x="1156" y="841" font-size="10" fill="#000" stroke="#000" stroke-width="0.2" textLength="50" lengthAdjust="spacingAndGlyphs" >14 Jul 16:00</text>
<rect x="1221" y="829" width="1" height="3" fill="#000"/>
<text x="1220" y="841" font-size="10" fill="#000" stroke="#000" stroke-width="0.2" textLength="50" lengthAdjust="spacingAndGlyphs" >17 Jul 12:00</text>
<rect x="1285" y="829" width="1" height="3" fill="#000"/>
<text x="1284" y="841" font-size="10" fill="#000" stroke="#000" stroke-width="0.2" textLength="50" lengthAdjust="spacingAndGlyphs" >18 Jul 04:00</text>
<rect x="1349" y="829" width="1" height="3" fill="#000"/>
<text x="1348" y="841" font-size="10" fill="#000" stroke="#000" stroke-width="0.2" textLength="50" lengthAdjust="spacingAndGlyphs" >18 Jul 20:00</text>
<rect x="1413" y="829" width="1" height="3" fill="#000"/>
<text x="1412" y="841" font-size="10" fill="#000" stroke="#000" stroke-width="0.2" textLength="50" lengthAdjust="spacingAndGlyphs" >19 Jul 12:00</text>
<g shape-rendering="geometricPrecision">
<defs><pattern id="chk" width="2" height="2" patternUnits="userSpaceOnUse"><rect width="2" height="2" fill="#f4f4f4"/><rect width="1" height="1" fill="#fbfbfb"/><rect x="1" y="1" width="1" height="1" fill="#fbfbfb"/></pattern><linearGradient id="gplus" x1="0" y1="0" x2="0" y2="1"><stop offset="0" stop-color="#80ff80"/><stop offset="1" stop-color="#10c010"/></linearGradient><linearGradient id="gold" x1="0" y1="0" x2="0" y2="1"><stop offset="0" stop-color="#f8e070"/><stop offset="1" stop-color="#d09010"/></linearGradient><radialGradient id="zfill"><stop offset="0" stop-color="#ffffff"/><stop offset="1" stop-color="#a8d8f8"/></radialGradient></defs>
<rect x="5" y="2" width="1" height="21" fill="#a0a0a0" />
<rect x="6" y="2" width="1" height="21" fill="#ffffff" />
<path d="M15.5,5.5 h8 l3,3 v10 h-11 z" fill="#fff" stroke="#6a6a6a" stroke-width="1"/>
<rect x="17" y="8" width="3" height="1" fill="#909090" />
<rect x="17" y="11" width="6" height="1" fill="#909090" />
<rect x="17" y="13" width="6" height="1" fill="#909090" />
<rect x="17" y="15" width="4" height="1" fill="#909090" />
<path d="M23.5,11.5 h3 v4 h4 v3 h-4 v4 h-3 v-4 h-4 v-3 h4 z" fill="url(#gplus)" stroke="#109010" stroke-width="1"/>
<path transform="translate(34,6)" d="M3.5,0 v1.5 M0,2.5 h6 M1.5,3.5 l0.8,1.2 M5,3.5 l-0.8,1.2 M0,5.5 h6.5 M0,7.5 h6.5 M3.5,5.5 v5.5 M3.5,8 l-3,3 M3.5,8 l2.5,2 M11,0.5 l-3.5,1.5 v9 M7.5,5.5 h4 M9.5,5.5 v5.5" fill="none" stroke="#101010" stroke-width="1.1"/>
<path transform="translate(46,6)" d="M1,0.5 l1.2,1.5 M0,4.5 h2.5 v6 l1,-1 M4.5,1.5 h7 M8.5,1.5 v9.5 h-1.5" fill="none" stroke="#101010" stroke-width="1.1"/>
<path transform="translate(58,6)" d="M3,0 l1,1.5 M8.5,0 l-1,1.5 M2.5,2.5 h7 v5 h-7 z M2.5,5 h7 M6,2.5 v8.5 M0.5,9.5 h11" fill="none" stroke="#101010" stroke-width="1.1"/>
<path transform="translate(187.0,6)" d="M5.5,0 l-0.8,1.5 M1.5,1.5 h8 v9.5 h-8 z M1.5,4.5 h8 M1.5,7.5 h8" fill="none" stroke="#101010" stroke-width="1.1"/>
<path transform="translate(198.7,6)" d="M0.5,1.5 h4.5 M0,4.5 h5.5 M2.5,4.5 l-2,5 h4.5 M4,7.5 l1,2 M6.5,3.5 h4.5 v6.5 l-1,1 M8.5,0.5 v4 l-2,6.5" fill="none" stroke="#101010" stroke-width="1.1"/>
<path transform="translate(210.4,6)" d="M5.5,0 v1.5 M0.5,2.5 h10.5 M3.5,3.5 l-2.5,2 M7.5,3.5 l2.5,2 M2.5,5.5 l8,5.5 M8.5,5.5 l-8,5.5" fill="none" stroke="#101010" stroke-width="1.1"/>
<path transform="translate(222.1,6)" d="M2.5,0.5 h6 v5 h-6 z M2.5,3 h6 M1,6.5 h9.5 l-0.5,4.5 h-1.5 M4,6.5 l-3,3.5 M6,7.5 l-2.5,3.5 M8,7.5 l-2.5,3.5" fill="none" stroke="#101010" stroke-width="1.1"/>
<path d="M82.5,15 L88,6.5 L97.5,14 L91,20.5 Z" fill="url(#gold)" stroke="#a06010" stroke-width="1"/>
<path d="M84,16 L91,20 L96,15" fill="none" stroke="#f8f0c0" stroke-width="1"/>
<path d="M112.5,5.5 h9 l1,1 v8 h-10 z" fill="#1e96f0" stroke="#1070d0" stroke-width="1"/>
<rect x="116" y="8" width="6" height="4" fill="#ffffff" />
<rect x="117" y="9" width="4" height="1" fill="#1e96f0" />
<path d="M111,20 q-1.5,-3 2,-4 q1,-3 4.5,-2 q3,-2 5,1 q3,0 3,3 q0,2 -2,2 z" fill="#e4ecf8" stroke="#3858a0" stroke-width="1"/>
<circle cx="146" cy="12.5" r="7.5" fill="none" stroke="#4a7ad8" stroke-width="1" opacity="0.8"/>
<circle cx="146" cy="12.5" r="5" fill="none" stroke="#4a7ad8" stroke-width="1" opacity="0.7"/>
<circle cx="146" cy="12.5" r="2.8" fill="none" stroke="#4a7ad8" stroke-width="1" opacity="0.7"/>
<path d="M146,5 A7.5,7.5 0 0 1 146,20" fill="none" stroke="#40a040" stroke-width="1"/>
<circle cx="146" cy="12.5" r="1.5" fill="#2050c0"/>
<rect x="146" y="13" width="1" height="8" fill="#20a020" />
<path d="M165.5,12.5 L180.5,12.5 L173,20.5 Z" fill="#f0d040" stroke="#c09010" stroke-width="1"/>
<ellipse cx="172.5" cy="10" rx="7.5" ry="2.5" fill="#6ab8e8" stroke="#3888b8" stroke-width="1"/>
<ellipse cx="172.5" cy="7.5" rx="4" ry="3" fill="#78c4f0" stroke="#3888b8" stroke-width="1"/>
<circle cx="177.5" cy="16.5" r="4" fill="#e02010" stroke="#b01008" stroke-width="0.8"/>
<rect x="176" y="15" width="3" height="3" fill="#ffffff" />
<rect x="241" y="0" width="1" height="25" fill="#a0a0a0" />
<rect x="242" y="0" width="1" height="25" fill="#ffffff" />
<rect x="245" y="3" width="4" height="1" fill="#a8a8a8" />
<rect x="245" y="5" width="4" height="1" fill="#a8a8a8" />
<rect x="245" y="7" width="4" height="1" fill="#a8a8a8" />
<rect x="245" y="9" width="4" height="1" fill="#a8a8a8" />
<rect x="245" y="11" width="4" height="1" fill="#a8a8a8" />
<rect x="245" y="13" width="4" height="1" fill="#a8a8a8" />
<rect x="245" y="15" width="4" height="1" fill="#a8a8a8" />
<rect x="245" y="17" width="4" height="1" fill="#a8a8a8" />
<rect x="245" y="19" width="4" height="1" fill="#a8a8a8" />
<rect x="245" y="21" width="4" height="1" fill="#a8a8a8" />
<rect x="259" y="8" width="1" height="13" fill="#505050" />
<polygon points="257.5,9.5 261.5,9.5 259.5,7" fill="#505050"/>
<rect x="257" y="18" width="13" height="1" fill="#505050" />
<polygon points="269,16.5 269,20.5 272,18.5" fill="#505050"/>
<rect x="265" y="8" width="1" height="9" fill="#108010" />
<rect x="266" y="9" width="2" height="1" fill="#108010" />
<rect x="263" y="15" width="2" height="1" fill="#108010" />
<rect x="279" y="1" width="26" height="22" fill="url(#chk)"/>
<rect x="279" y="1" width="25" height="1" fill="#a0a0a0" />
<rect x="279" y="1" width="1" height="22" fill="#a0a0a0" />
<rect x="279" y="23" width="26" height="1" fill="#ffffff" />
<rect x="304" y="1" width="1" height="23" fill="#ffffff" />
<rect x="287" y="8" width="1" height="13" fill="#505050" />
<polygon points="285.5,9.5 289.5,9.5 287.5,7" fill="#505050"/>
<rect x="285" y="18" width="13" height="1" fill="#505050" />
<polygon points="297,16.5 297,20.5 300,18.5" fill="#505050"/>
<rect x="293" y="5" width="1" height="12" fill="#108010" />
<rect x="291.5" y="7.5" width="4" height="7" fill="#40e040" stroke="#108010" stroke-width="1"/>
<rect x="315" y="8" width="1" height="13" fill="#505050" />
<polygon points="313.5,9.5 317.5,9.5 315.5,7" fill="#505050"/>
<rect x="313" y="18" width="13" height="1" fill="#505050" />
<polygon points="325,16.5 325,20.5 328,18.5" fill="#505050"/>
<path d="M314.5,15.5 Q320,7 322,11 T326,14" fill="none" stroke="#30a030" stroke-width="1.2"/>
<rect x="336" y="2" width="1" height="21" fill="#a0a0a0" />
<rect x="337" y="2" width="1" height="21" fill="#ffffff" />
<line x1="354.5" y1="14.5" x2="359.5" y2="19.5" stroke="#c09820" stroke-width="2.8" stroke-linecap="round"/>
<circle cx="351" cy="10.5" r="5" fill="url(#zfill)" stroke="#3a78c8" stroke-width="1.2"/>
<rect x="348" y="10" width="6" height="2" fill="#4a88b8" />
<rect x="350" y="8" width="2" height="6" fill="#4a88b8" />
<line x1="382.5" y1="14.5" x2="387.5" y2="19.5" stroke="#c09820" stroke-width="2.8" stroke-linecap="round"/>
<circle cx="379" cy="10.5" r="5" fill="url(#zfill)" stroke="#3a78c8" stroke-width="1.2"/>
<rect x="376" y="10" width="6" height="2" fill="#4a88b8" />
<rect x="401" y="5" width="8" height="8" rx="1" fill="#3aa018"/>
<rect x="402" y="8" width="6" height="4" fill="#ffffff" />
<rect x="403" y="9" width="4" height="1" fill="#9ad08a" />
<rect x="402" y="6" width="1" height="1" fill="#d8e8ff" />
<rect x="409" y="5" width="8" height="8" rx="1" fill="#2a5ad8"/>
<rect x="410" y="8" width="6" height="4" fill="#ffffff" />
<rect x="411" y="9" width="4" height="1" fill="#7a9ae8" />
<rect x="410" y="6" width="1" height="1" fill="#d8e8ff" />
<rect x="401" y="13" width="8" height="8" rx="1" fill="#2a5ad8"/>
<rect x="402" y="16" width="6" height="4" fill="#ffffff" />
<rect x="403" y="17" width="4" height="1" fill="#7a9ae8" />
<rect x="402" y="14" width="1" height="1" fill="#d8e8ff" />
<rect x="409" y="13" width="8" height="8" rx="1" fill="#3aa018"/>
<rect x="410" y="16" width="6" height="4" fill="#ffffff" />
<rect x="411" y="17" width="4" height="1" fill="#9ad08a" />
<rect x="410" y="14" width="1" height="1" fill="#d8e8ff" />
<rect x="426" y="2" width="1" height="21" fill="#a0a0a0" />
<rect x="427" y="2" width="1" height="21" fill="#ffffff" />
<rect x="431" y="1" width="26" height="22" fill="url(#chk)"/>
<rect x="431" y="1" width="25" height="1" fill="#a0a0a0" />
<rect x="431" y="1" width="1" height="22" fill="#a0a0a0" />
<rect x="431" y="23" width="26" height="1" fill="#ffffff" />
<rect x="456" y="1" width="1" height="23" fill="#ffffff" />
<rect x="440" y="8" width="1" height="13" fill="#505050" />
<polygon points="438.5,9.5 442.5,9.5 440.5,7" fill="#505050"/>
<rect x="438" y="18" width="13" height="1" fill="#505050" />
<polygon points="450,16.5 450,20.5 453,18.5" fill="#505050"/>
<polygon points="444.5,10 444.5,16 448.5,13" fill="#30c030" stroke="#108010" stroke-width="0.8"/>
<rect x="459" y="1" width="26" height="22" fill="url(#chk)"/>
<rect x="459" y="1" width="25" height="1" fill="#a0a0a0" />
<rect x="459" y="1" width="1" height="22" fill="#a0a0a0" />
<rect x="459" y="23" width="26" height="1" fill="#ffffff" />
<rect x="484" y="1" width="1" height="23" fill="#ffffff" />
<rect x="468" y="8" width="1" height="13" fill="#505050" />
<polygon points="466.5,9.5 470.5,9.5 468.5,7" fill="#505050"/>
<rect x="466" y="18" width="13" height="1" fill="#505050" />
<polygon points="478,16.5 478,20.5 481,18.5" fill="#505050"/>
<rect x="473" y="7" width="1" height="10" fill="#1060b0" />
<polygon points="474,12.5 478,10 478,15" fill="#e05010"/>
<rect x="476" y="12" width="3" height="1" fill="#e05010" />
<rect x="488" y="2" width="1" height="21" fill="#a0a0a0" />
<rect x="489" y="2" width="1" height="21" fill="#ffffff" />
<path d="M498.5,5.5 h8 l3,3 v10 h-11 z" fill="#fff" stroke="#6a6a6a" stroke-width="1"/>
<rect x="500" y="8" width="3" height="1" fill="#909090" />
<rect x="500" y="11" width="6" height="1" fill="#909090" />
<rect x="500" y="13" width="6" height="1" fill="#909090" />
<rect x="500" y="15" width="4" height="1" fill="#909090" />
<path d="M506.5,11.5 h3 v4 h4 v3 h-4 v4 h-3 v-4 h-4 v-3 h4 z" fill="url(#gplus)" stroke="#109010" stroke-width="1"/>
<polygon points="520,12 526,12 523,15" fill="#000"/>
<circle cx="544.5" cy="12.5" r="7.8" fill="#1a62c0"/>
<circle cx="544.5" cy="12.5" r="6.8" fill="#3a8ae0"/>
<circle cx="544.5" cy="12.5" r="5.3" fill="#f4f8ff"/>
<path d="M544.5,8.5 v4 h3" fill="none" stroke="#202020" stroke-width="1"/>
<polygon points="559,12 565,12 562,15" fill="#000"/>
<rect x="575.5" y="6.5" width="15" height="13" fill="#ffffff" stroke="#2a6ac0" stroke-width="1"/>
<rect x="576" y="7" width="14" height="2" fill="#4a8ad8" />
<rect x="576" y="13" width="14" height="1" fill="#2a6ac0" />
<path d="M577,11.5 l3,-1 l2,0.5 l3,-1.5 l2,0.5 l2,-1" fill="none" stroke="#a02010" stroke-width="1"/>
<path d="M577,17.5 l3,-1 l2,0.5 l3,-2 l3,2" fill="none" stroke="#20a020" stroke-width="1"/>
<polygon points="598,12 604,12 601,15" fill="#000"/>
<rect x="609" y="0" width="1" height="25" fill="#a0a0a0" />
<rect x="610" y="0" width="1" height="25" fill="#ffffff" />
<rect x="613" y="3" width="4" height="1" fill="#a8a8a8" />
<rect x="613" y="5" width="4" height="1" fill="#a8a8a8" />
<rect x="613" y="7" width="4" height="1" fill="#a8a8a8" />
<rect x="613" y="9" width="4" height="1" fill="#a8a8a8" />
<rect x="613" y="11" width="4" height="1" fill="#a8a8a8" />
<rect x="613" y="13" width="4" height="1" fill="#a8a8a8" />
<rect x="613" y="15" width="4" height="1" fill="#a8a8a8" />
<rect x="613" y="17" width="4" height="1" fill="#a8a8a8" />
<rect x="613" y="19" width="4" height="1" fill="#a8a8a8" />
<rect x="613" y="21" width="4" height="1" fill="#a8a8a8" />
<rect x="619" y="1" width="26" height="22" fill="url(#chk)"/>
<rect x="619" y="1" width="25" height="1" fill="#a0a0a0" />
<rect x="619" y="1" width="1" height="22" fill="#a0a0a0" />
<rect x="619" y="23" width="26" height="1" fill="#ffffff" />
<rect x="644" y="1" width="1" height="23" fill="#ffffff" />
<path d="M627,6 L627,17 L629.5,14.5 L631.5,19.5 L633.5,18.5 L631.5,13.5 L635,13.5 Z" fill="#404040"/>
<rect x="659" y="6" width="1" height="15" fill="#505050" />
<rect x="652" y="13" width="15" height="1" fill="#505050" />
<rect x="676" y="2" width="1" height="21" fill="#a0a0a0" />
<rect x="677" y="2" width="1" height="21" fill="#ffffff" />
<rect x="693" y="7" width="1" height="13" fill="#505050" />
<rect x="716" y="13" width="13" height="1" fill="#505050" />
<line x1="744" y1="20" x2="757" y2="7.5" stroke="#505050" stroke-width="1.1"/>
<path d="M770.5,17.5 L782.5,7.5 M773.5,21 L785.5,11 M773,13 l1.5,5.5 M776.5,10 l1.5,5.5 M780,7 l1.5,5.5 M783,5 l1,4" fill="none" stroke="#404040" stroke-width="1.1"/>
<text x="781" y="22" font-size="7" font-weight="bold" fill="#404040" font-family="Liberation Sans, sans-serif">E</text>
<line x1="799" y1="6.5" x2="812" y2="6.5" stroke="#505050" stroke-width="1" stroke-dasharray="1 1"/>
<line x1="799" y1="9.5" x2="812" y2="9.5" stroke="#505050" stroke-width="1" stroke-dasharray="1 1"/>
<line x1="799" y1="13.5" x2="812" y2="13.5" stroke="#505050" stroke-width="1" stroke-dasharray="1 1"/>
<line x1="799" y1="17.5" x2="808" y2="17.5" stroke="#505050" stroke-width="1" stroke-dasharray="1 1"/>
<text x="808.5" y="22" font-size="7" font-weight="bold" fill="#404040" font-family="Liberation Sans, sans-serif">F</text>
<text x="829.5" y="18" font-size="12" font-weight="bold" fill="#606060" font-family="Liberation Sans, sans-serif" textLength="9" lengthAdjust="spacingAndGlyphs">A</text>
<rect x="856.5" y="7.5" width="12" height="12" fill="none" stroke="#606060" stroke-width="1" stroke-dasharray="1 1" shape-rendering="crispEdges"/>
<text x="858" y="17.5" font-size="11" font-weight="bold" fill="#505050" font-family="Liberation Sans, sans-serif" textLength="9" lengthAdjust="spacingAndGlyphs">T</text>
<polygon points="886,7 889,9.5 886,12 883,9.5" fill="#404040"/>
<polygon points="894,14 897,16.5 894,19.5 891,16.5" fill="#404040"/>
<path d="M885,13 l2,2 l4,-4" fill="none" stroke="#404040" stroke-width="1.3"/>
<polygon points="904,12 910,12 907,15" fill="#000"/>
<rect x="915" y="0" width="1" height="25" fill="#a0a0a0" />
<rect x="916" y="0" width="1" height="25" fill="#ffffff" />
<rect x="919" y="3" width="4" height="1" fill="#a8a8a8" />
<rect x="919" y="5" width="4" height="1" fill="#a8a8a8" />
<rect x="919" y="7" width="4" height="1" fill="#a8a8a8" />
<rect x="919" y="9" width="4" height="1" fill="#a8a8a8" />
<rect x="919" y="11" width="4" height="1" fill="#a8a8a8" />
<rect x="919" y="13" width="4" height="1" fill="#a8a8a8" />
<rect x="919" y="15" width="4" height="1" fill="#a8a8a8" />
<rect x="919" y="17" width="4" height="1" fill="#a8a8a8" />
<rect x="919" y="19" width="4" height="1" fill="#a8a8a8" />
<rect x="919" y="21" width="4" height="1" fill="#a8a8a8" />
<rect x="1065" y="1" width="26" height="22" fill="url(#chk)"/>
<rect x="1065" y="1" width="25" height="1" fill="#a0a0a0" />
<rect x="1065" y="1" width="1" height="22" fill="#a0a0a0" />
<rect x="1065" y="23" width="26" height="1" fill="#ffffff" />
<rect x="1090" y="1" width="1" height="23" fill="#ffffff" />
<text x="930" y="17" font-size="10" fill="#303030" font-family="Liberation Sans, sans-serif" textLength="13" lengthAdjust="spacingAndGlyphs">M1</text>
<text x="958" y="17" font-size="10" fill="#303030" font-family="Liberation Sans, sans-serif" textLength="13" lengthAdjust="spacingAndGlyphs">M5</text>
<text x="984" y="17" font-size="10" fill="#303030" font-family="Liberation Sans, sans-serif" textLength="18" lengthAdjust="spacingAndGlyphs">M15</text>
<text x="1012" y="17" font-size="10" fill="#303030" font-family="Liberation Sans, sans-serif" textLength="18" lengthAdjust="spacingAndGlyphs">M30</text>
<text x="1043" y="17" font-size="10" fill="#303030" font-family="Liberation Sans, sans-serif" textLength="12" lengthAdjust="spacingAndGlyphs">H1</text>
<text x="1070" y="17" font-size="10" fill="#303030" font-family="Liberation Sans, sans-serif" textLength="13" lengthAdjust="spacingAndGlyphs">H4</text>
<text x="1099" y="17" font-size="10" fill="#303030" font-family="Liberation Sans, sans-serif" textLength="12" lengthAdjust="spacingAndGlyphs">D1</text>
<text x="1127" y="17" font-size="10" fill="#303030" font-family="Liberation Sans, sans-serif" textLength="14" lengthAdjust="spacingAndGlyphs">W1</text>
<text x="1153" y="17" font-size="10" fill="#303030" font-family="Liberation Sans, sans-serif" textLength="15" lengthAdjust="spacingAndGlyphs">MN</text>
<rect x="1176" y="0" width="1" height="25" fill="#a0a0a0" />
<rect x="1177" y="0" width="1" height="25" fill="#ffffff" />
<line x1="1640.5" y1="17.5" x2="1644.5" y2="13.5" stroke="#2050c8" stroke-width="2.2" stroke-linecap="round"/>
<circle cx="1646.5" cy="10.5" r="3.8" fill="#ffffff" stroke="#2a5ad8" stroke-width="1.3"/>
<ellipse cx="1669" cy="15" rx="5.5" ry="4" fill="#e8e8f0" stroke="#a0a0a0" stroke-width="1"/>
<polygon points="1666,18 1667,21.5 1670,18.5" fill="#a0a0a0"/>
<circle cx="1677.5" cy="10.5" r="8" fill="#e03818"/>
<text x="1677.5" y="15" font-size="11" fill="#ffffff" text-anchor="middle" font-family="Liberation Serif, serif">1</text>
</g>
</svg>
</body></html>
